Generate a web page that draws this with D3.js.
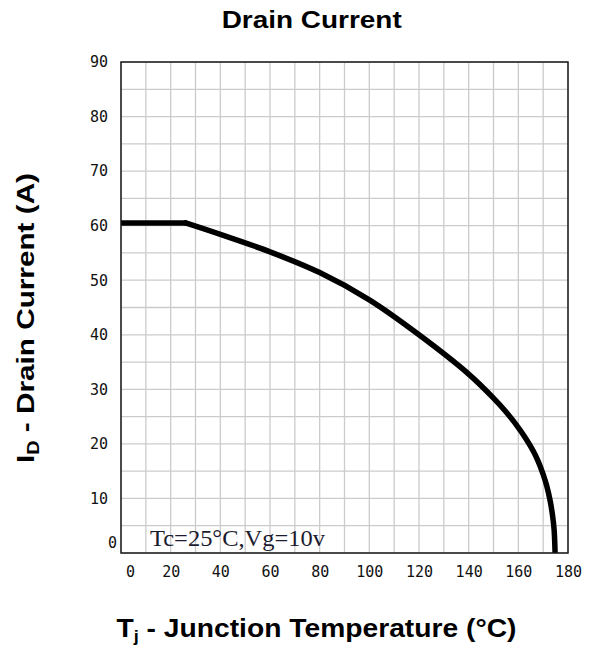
<!DOCTYPE html>
<html>
<head>
<meta charset="utf-8">
<script src="https://cdn.jsdelivr.net/npm/d3@7"></script>
<style>
  html, body { margin: 0; padding: 0; background: #fff; }
  svg { display: block; }
</style>
</head>
<body>
<svg id="chart" width="591" height="650"></svg>
<script>
// ---- data ----
const titleText = "Drain Current";
const annotationText = "Tc=25°C,Vg=10v";
const xTickValues = [0, 20, 40, 60, 80, 100, 120, 140, 160, 180];
const yTickValues = [0, 10, 20, 30, 40, 50, 60, 70, 80, 90];
const xDomain = [0, 180];
const yDomain = [0, 90];
// flat (package-limited) part
const flatTemp = [0, 26];
const flatCurrent = [60.5, 60.5];
// derating curve
const curveTemp = [26, 40, 60, 80, 100, 120, 140, 150, 155, 160, 163, 166, 168, 170, 171.5, 172.8, 173.8, 174.4, 174.8];
const curveCurrent = [60.5, 58.4, 55.2, 51.4, 46.4, 40.0, 32.8, 28.4, 25.9, 23.0, 21.0, 18.7, 16.8, 14.4, 12.2, 9.6, 6.8, 4.3, 0];

// ---- layout ----
const svg = d3.select("#chart");
const margin = { left: 121, top: 62, right: 591 - 568, bottom: 650 - 553 };
const W = 591 - margin.left - margin.right;
const H = 650 - margin.top - margin.bottom;

const x = d3.scaleLinear().domain(xDomain).range([0, W]);
const y = d3.scaleLinear().domain(yDomain).range([H, 0]);

const g = svg.append("g").attr("transform", `translate(${margin.left},${margin.top})`);

g.append("defs").append("clipPath").attr("id", "plotclip")
  .append("rect").attr("x", 0).attr("y", 0).attr("width", W).attr("height", H);

// grid
const gridX = d3.range(xDomain[0], xDomain[1] + 1, 10);
const gridY = d3.range(yDomain[0], yDomain[1] + 1, 5);
g.append("g").selectAll("line").data(gridX).join("line")
  .attr("x1", d => x(d)).attr("x2", d => x(d))
  .attr("y1", 0).attr("y2", H)
  .attr("stroke", "#cbcbcb").attr("stroke-width", 1.3);
g.append("g").selectAll("line").data(gridY).join("line")
  .attr("x1", 0).attr("x2", W)
  .attr("y1", d => y(d)).attr("y2", d => y(d))
  .attr("stroke", "#cbcbcb").attr("stroke-width", 1.3);

// axes (labels only)
const tickFont = "'DejaVu Sans Mono', monospace";
const xAxis = g.append("g").attr("transform", `translate(0,${H})`)
  .call(d3.axisBottom(x).tickValues(xTickValues).tickSize(0).tickPadding(13).tickFormat(d3.format("d")));
xAxis.select(".domain").remove();
xAxis.selectAll("text").attr("font-family", tickFont).attr("font-size", 15).attr("fill", "#111")
  .attr("dx", d => d === 0 ? 9 : 0);

const yAxis = g.append("g")
  .call(d3.axisLeft(y).tickValues(yTickValues).tickSize(0).tickPadding(13).tickFormat(d3.format("d")));
yAxis.select(".domain").remove();
yAxis.selectAll("text").attr("font-family", tickFont).attr("font-size", 15).attr("fill", "#111")
  .attr("dx", d => d === 0 ? 9 : 0)
  .attr("dy", d => d === 0 ? "-0.4em" : "0.32em");

// curve
const plot = g.append("g").attr("clip-path", "url(#plotclip)");
const flatLine = d3.line().x(d => x(d[0])).y(d => y(d[1])).curve(d3.curveLinear);
const derLine = d3.line().x(d => x(d[0])).y(d => y(d[1])).curve(d3.curveCatmullRom.alpha(0.5));
plot.append("path")
  .datum(flatTemp.map((t, i) => [t, flatCurrent[i]]))
  .attr("d", flatLine)
  .attr("fill", "none").attr("stroke", "#000").attr("stroke-width", 5.5)
  .attr("stroke-linecap", "round");
plot.append("path")
  .datum(curveTemp.map((t, i) => [t, curveCurrent[i]]))
  .attr("d", derLine)
  .attr("fill", "none").attr("stroke", "#000").attr("stroke-width", 5.5)
  .attr("stroke-linecap", "round").attr("stroke-linejoin", "round");

// frame
g.append("rect").attr("x", 0).attr("y", 0).attr("width", W).attr("height", H)
  .attr("fill", "none").attr("stroke", "#1a1a1a").attr("stroke-width", 1.5);

// annotation
g.append("text")
  .attr("x", 29).attr("y", H - 7)
  .attr("font-family", "'Liberation Serif', 'Times New Roman', serif")
  .attr("font-size", 24).attr("fill", "#1b1b2e")
  .attr("textLength", 175).attr("lengthAdjust", "spacingAndGlyphs")
  .text(annotationText);

// title
svg.append("text")
  .attr("x", 311.7).attr("y", 28.3).attr("text-anchor", "middle")
  .attr("font-family", "'Liberation Sans', Arial, sans-serif").attr("font-weight", "bold")
  .attr("font-size", 24).attr("fill", "#000")
  .attr("textLength", 180).attr("lengthAdjust", "spacingAndGlyphs")
  .text(titleText);

// x axis label
const xl = svg.append("text")
  .attr("x", 316.5).attr("y", 636.7).attr("text-anchor", "middle")
  .attr("font-family", "'Liberation Sans', Arial, sans-serif").attr("font-weight", "bold")
  .attr("font-size", 25).attr("fill", "#000")
  .attr("textLength", 400).attr("lengthAdjust", "spacingAndGlyphs");
xl.append("tspan").text("T");
xl.append("tspan").attr("font-size", 16).attr("dy", 5).text("j");
xl.append("tspan").attr("dy", -5).text(" - Junction Temperature (°C)");

// y axis label
const yl = svg.append("text")
  .attr("transform", "translate(34,318) rotate(-90)")
  .attr("text-anchor", "middle")
  .attr("font-family", "'Liberation Sans', Arial, sans-serif").attr("font-weight", "bold")
  .attr("font-size", 24).attr("fill", "#000")
  .attr("textLength", 290).attr("lengthAdjust", "spacingAndGlyphs");
yl.append("tspan").text("I");
yl.append("tspan").attr("font-size", 16).attr("dy", 5).text("D");
yl.append("tspan").attr("dy", -5).text(" - Drain Current (A)");
</script>
</body>
</html>
